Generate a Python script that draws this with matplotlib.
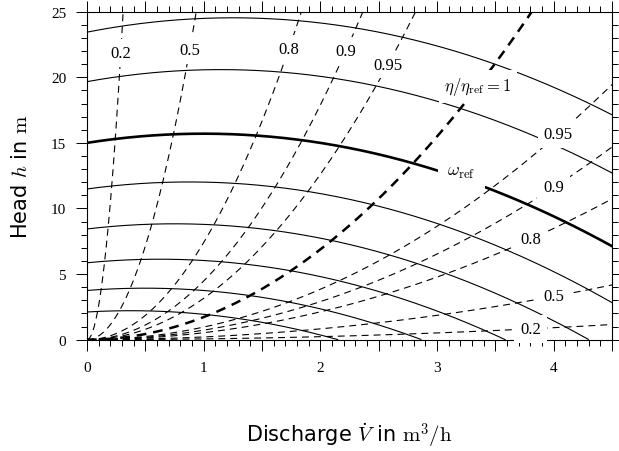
import numpy as np
import matplotlib.pyplot as plt
from matplotlib.ticker import MultipleLocator, FuncFormatter

plt.rcParams['mathtext.fontset'] = 'cm'
plt.rcParams['lines.scale_dashes'] = False

# pump curves  H = H0*r^2 + B*r*Q + C*Q^2
H0_REF = 15.0
B_LIN = 1.4
C_QUAD = -0.7
speed_ratios = [0.375, 0.5, 0.625, 0.75, 0.875, 1.0, 1.145, 1.25]

# lines of constant efficiency  H = K*Q^2
eff_labels = ["0.2", "0.5", "0.8", "0.9", "0.95", "1",
              "0.95", "0.9", "0.8", "0.5", "0.2"]
eff_K = [260, 28.5, 7.4, 4.47, 3.15, 1.72, 0.96, 0.725, 0.53, 0.206, 0.057]
# discharge at which each label sits
label_q = [0.29, 0.88, 1.73, 2.22, 2.58, 3.35, 4.04, 4.0, 3.8, 4.0, 3.8]

ref_label_q = 3.21

fig = plt.figure(figsize=(6.19, 4.52), dpi=100)
ax = fig.add_axes([0.1405, 0.2463, 0.8482, 0.7257])

q = np.linspace(0, 4.5, 600)

for r in speed_ratios:
    h = H0_REF * r**2 + B_LIN * r * q + C_QUAD * q**2
    h = np.where(h >= 0, h, np.nan)
    lw = 1.9 if r == 1.0 else 0.8
    ax.plot(q, h, color='k', lw=lw, zorder=2)

for lab, K in zip(eff_labels, eff_K):
    h = K * q**2
    if lab == "1":
        ax.plot(q, h, color='k', lw=1.8, ls=(0, (7, 5)), zorder=2)
    else:
        ax.plot(q, h, color='k', lw=0.8, ls=(0, (5, 3.6)), zorder=2)

box = dict(facecolor='white', edgecolor='none', boxstyle='square,pad=0.35')
serif = ['Liberation Serif', 'DejaVu Serif']
for lab, K, ql in zip(eff_labels, eff_K, label_q):
    txt = r'$\eta/\eta_{\rm ref}=1$' if lab == "1" else lab
    ax.text(ql, K * ql**2, txt, ha='center', va='center', fontsize=12,
            family=serif, bbox=box, zorder=5, clip_on=False)

h_ref = H0_REF + B_LIN * ref_label_q + C_QUAD * ref_label_q**2
ax.text(ref_label_q, h_ref + 0.6, r'$\omega_{\rm ref}$', ha='center', va='center',
        fontsize=13, bbox=dict(facecolor='white', edgecolor='none',
                               boxstyle='square,pad=0.5'), zorder=5)

ax.set_xlim(0, 4.5)
ax.set_ylim(0, 25)
ax.xaxis.set_major_locator(MultipleLocator(0.5))
ax.xaxis.set_minor_locator(MultipleLocator(0.1))
ax.xaxis.set_major_formatter(FuncFormatter(
    lambda v, p: "%d" % round(v) if abs(v - round(v)) < 1e-6 else ""))
ax.yaxis.set_major_locator(MultipleLocator(5))
ax.yaxis.set_minor_locator(MultipleLocator(1))
ax.tick_params(which='both', direction='out', top=True, right=True,
               width=0.7, labelsize=11)
ax.tick_params(which='major', length=8, pad=7)
ax.tick_params(which='minor', length=4.5)
for lbl in ax.get_xticklabels() + ax.get_yticklabels():
    lbl.set_family(serif)
for s in ax.spines.values():
    s.set_linewidth(0.8)

ax.set_xlabel(r'Discharge $\dot{V}$ in $\mathrm{m}^3/\mathrm{h}$', fontsize=15,
              labelpad=34)
ax.set_ylabel(r'Head $h$ in $\mathrm{m}$', fontsize=15, labelpad=14)

fig.savefig('out.png', dpi=100)
